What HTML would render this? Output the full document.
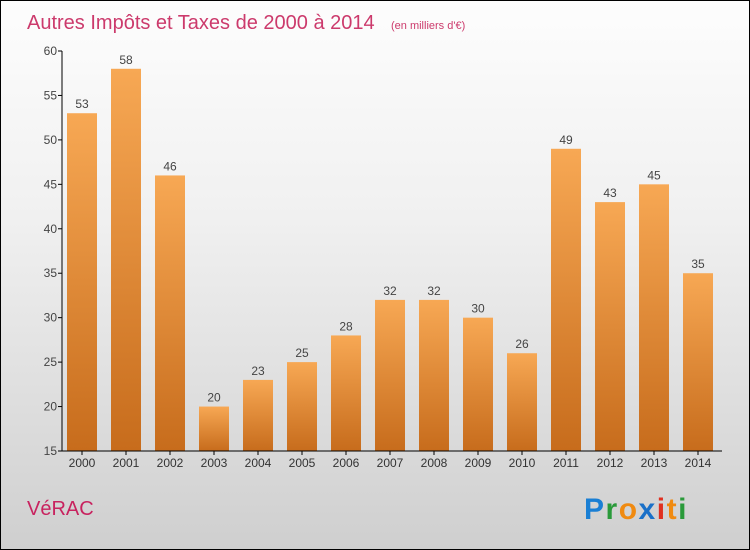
<!DOCTYPE html>
<html><head><meta charset="utf-8"><style>
body{margin:0}
#c{position:relative;width:748px;height:548px;border:1px solid #000;background:linear-gradient(#fdfdfd,#f0f0f0 40%,#cfcfcf);font-family:"Liberation Sans","DejaVu Sans",sans-serif;overflow:hidden}
</style></head><body>
<div id="c">
<svg id="s" width="748" height="548" style="position:absolute;left:0;top:0">
<defs><linearGradient id="g" x1="0" y1="0" x2="0" y2="1"><stop offset="0" stop-color="#f7a854"/><stop offset="1" stop-color="#c76c1c"/></linearGradient></defs>
<text x="26" y="28" font-size="20" fill="#cc3a6c" font-weight="normal">Autres Impôts et Taxes de 2000 à 2014</text>
<text x="390" y="28" font-size="11" fill="#cc3a6c">(en milliers d'€)</text>
<text x="26" y="514" font-size="20" fill="#c8235f">VéRAC</text>
<g font-size="30" font-weight="bold" font-family="'Liberation Sans',sans-serif">
<text x="583" y="518" letter-spacing="1.5"><tspan fill="#1a7fd4">P</tspan><tspan fill="#2a9a3a">r</tspan><tspan fill="#f08a10">o</tspan><tspan fill="#1a70c8">x</tspan><tspan fill="#e03020">i</tspan><tspan fill="#f08a10">t</tspan><tspan fill="#2a9a3a">i</tspan></text></g>
<g id="p"></g>
</svg>
</div>
<script>
const years=["2000","2001","2002","2003","2004","2005","2006","2007","2008","2009","2010","2011","2012","2013","2014"];
const values=[53,58,46,20,23,25,28,32,32,30,26,49,43,45,35];
const yTicks=[15,20,25,30,35,40,45,50,55,60];
const ns="http://www.w3.org/2000/svg",p=document.getElementById('p');
const y=v=>450-(v-15)*400/45, x=i=>81+i*44;
function mk(t,a,txt){const e=document.createElementNS(ns,t);for(const k in a)e.setAttribute(k,a[k]);if(txt!=null)e.textContent=txt;p.appendChild(e);return e;}
yTicks.forEach(t=>{
const l=mk('line',{x1:57,x2:61,y1:y(t),y2:y(t),stroke:'#000'});


const tx=mk('text',{x:56,y:y(t)+4,'text-anchor':'end','font-size':12,fill:'#444'},t);


});
values.forEach((v,i)=>{
const r=mk('rect',{x:x(i)-15,y:y(v),width:30,height:450-y(v),fill:'url(#g)'});


const lb=mk('text',{x:x(i),y:y(v)-5,'text-anchor':'middle','font-size':12,fill:'#444'},v);


const tk=mk('line',{x1:x(i),x2:x(i),y1:450,y2:454,stroke:'#000'});


const xl=mk('text',{x:x(i),y:466,'text-anchor':'middle','font-size':12,fill:'#333'},years[i]);


});
const ya=mk('line',{x1:61,x2:61,y1:50,y2:450,stroke:'#000'});


const xa=mk('line',{x1:61,x2:721,y1:450,y2:450,stroke:'#000'});


</script>
</body></html>
